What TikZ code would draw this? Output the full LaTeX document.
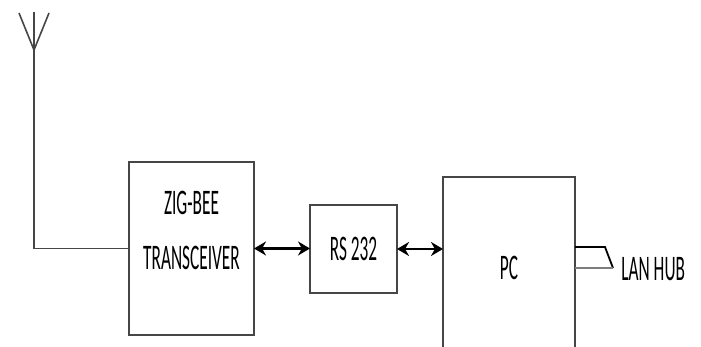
\documentclass[tikz,border=0pt]{standalone}
\usepackage{fontspec}
\setmainfont[FakeStretch=0.48]{Carlito}
\usetikzlibrary{arrows.meta,positioning}
\definecolor{edge}{RGB}{70,70,70}

\begin{document}
\begin{tikzpicture}[x=0.5pt,y=-0.5pt,>={Stealth[length=6pt,width=7pt]},
  box/.style={draw=edge,line width=1pt,inner sep=0pt,outer sep=0pt,
              font=\fontsize{18}{27.5}\selectfont,align=center},
  lbl/.style={font=\fontsize{18}{27.5}\selectfont,align=center,inner sep=0pt},
  link/.style={<->,line width=1.2pt}]
  \clip (0,0) rectangle (701,347);
  % blocks
  \node[box,minimum width=62.5pt,minimum height=86.5pt] (zig) at (191.5,248.5) {};
  \node[lbl] (zigtxt) at (191.5,230) {ZIG-BEE\\TRANSCEIVER};
  \node[box,minimum width=43.5pt,minimum height=43.5pt] (rs) at (353.5,249) {RS 232};
  \node[box,minimum width=66pt,minimum height=91pt] (pc) at (509,268) {PC};
  % antenna
  \coordinate (ant) at (34,50);
  \coordinate (tip) at (34,12);
  \draw[edge,line width=0.8pt] (19,13) -- (ant) -- (49,13);
  \draw[edge,line width=0.8pt] (tip) -- (ant) |- (zig.west);
  % links
  \draw[link] (zig.east) -- (zig.east -| rs.west);
  \draw[link] (rs.east) -- (rs.east -| pc.west);
  % lan hub
  \coordinate (lan) at (613,268);
  \draw[line width=0.9pt] (pc.east |- 0,247) -- (605,247) -- (lan);
  \draw[edge!70,line width=1.3pt] (lan) -- (pc.east |- lan);
  \node[lbl,anchor=west] (hub) at (621,269) {LAN HUB};
\end{tikzpicture}
\end{document}
